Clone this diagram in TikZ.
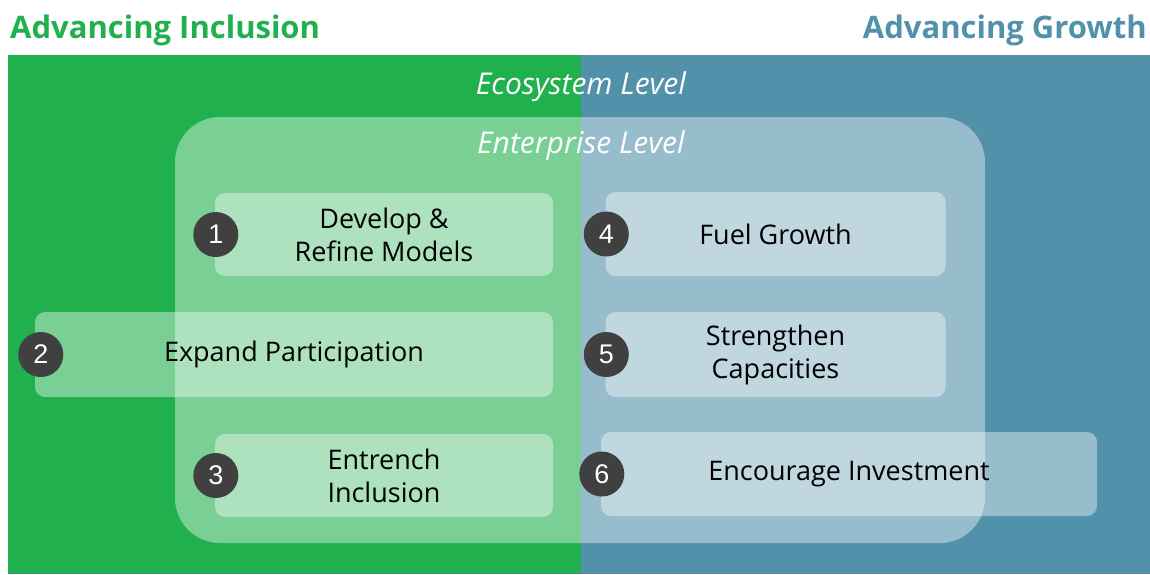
\documentclass[tikz,border=0pt]{standalone}
\usepackage{fontspec}
\setmainfont{Open Sans}
\newfontfamily\numfont{Liberation Sans}
\usepackage{tikz}
\usetikzlibrary{positioning}

\definecolor{inclgreen}{RGB}{32,176,78}
\definecolor{growblue}{RGB}{82,145,170}
\definecolor{numgray}{RGB}{64,64,64}

\begin{document}
\begin{tikzpicture}[x=1pt,y=-1pt,
  levellabel/.style={text=white,font=\fontsize{30}{34}\selectfont\itshape,inner sep=0pt},
  stepbox/.style={fill=white,fill opacity=0.4,text opacity=1,rounded corners=10pt,
    align=center,font=\fontsize{27}{33}\selectfont,inner sep=0pt},
  numdot/.style={circle,fill=numgray,text=white,minimum size=45pt,inner sep=0pt,
    font=\numfont\fontsize{27}{27}\selectfont}]
\useasboundingbox (0,0) rectangle (1150,574);

%Shape: Rectangle left and right halves
\fill [inclgreen] (8,55) rectangle (581,574);
\fill [growblue] (581,55) rectangle (1150,574);

% Text Node titles
\node (incl) [anchor=base west,inner sep=0pt,text=inclgreen,font=\fontsize{31}{31}\selectfont\bfseries] at (10,38) {Advancing Inclusion};
\node (grow) [anchor=base east,inner sep=0pt,text=growblue,font=\fontsize{31}{31}\selectfont\bfseries] at (1147,38) {Advancing Growth};

% Text Node
\node (eco) [levellabel,anchor=base] at (581,94) {Ecosystem Level};

%Shape: Rounded Rect enterprise
\fill [white,fill opacity=0.4,rounded corners=45pt] (175,117) rectangle (985,543);
% Text Node
\node (ent) [levellabel,anchor=base] at (581,153) {Enterprise Level};

%Shape: boxes
\node (dev) [stepbox,minimum width=338pt,minimum height=83pt] at (384,234.5) {Develop \&\\Refine Models};
\node (expand) [stepbox,minimum width=518pt,minimum height=85pt] at (294,354.5) {Expand Participation};
\node (entrench) [stepbox,minimum width=338pt,minimum height=83pt] at (384,475.5) {Entrench\\Inclusion};
\node (fuel) [stepbox,minimum width=340pt,minimum height=84pt] at (775.5,234) {Fuel Growth};
\node (strengthen) [stepbox,minimum width=340pt,minimum height=85pt] at (775.5,354.5) {Strengthen\\Capacities};
\node (encourage) [stepbox,minimum width=496pt,minimum height=84pt] at (849,474) {Encourage Investment};

%Shape: Circles
\node (n1) [numdot] at ([xshift=1pt]dev.west) {1};
\node (n2) [numdot] at ([xshift=6pt]expand.west) {2};
\node (n3) [numdot] at ([xshift=1pt]entrench.west) {3};
\node (n4) [numdot] at ([xshift=1pt]fuel.west) {4};
\node (n5) [numdot] at ([xshift=1pt]strengthen.west) {5};
\node (n6) [numdot] at ([xshift=1pt]encourage.west) {6};

\end{tikzpicture}
\end{document}
